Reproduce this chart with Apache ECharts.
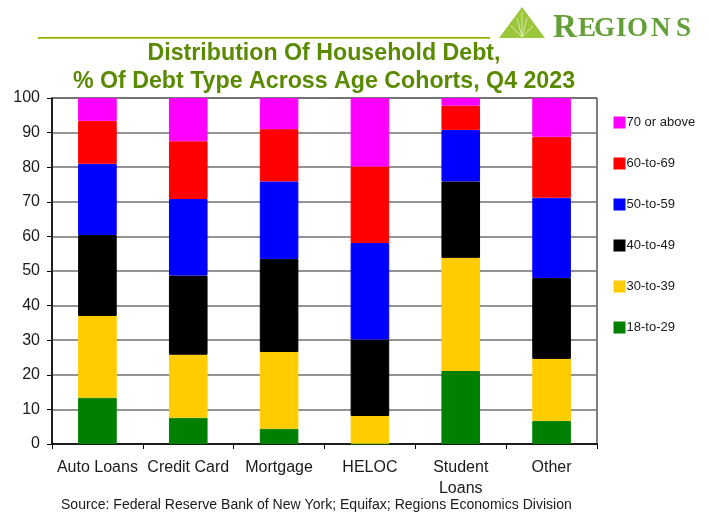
<!DOCTYPE html>
<html>
<head>
<meta charset="utf-8">
<style>html,body{margin:0;padding:0;background:#fff}#chart{width:709px;height:512px}</style>
<script src="https://cdn.jsdelivr.net/npm/echarts@6/dist/echarts.min.js"></script>
</head>
<body>
<div id="chart"></div>
<script>
// Share of each debt type held by each age cohort, Q4 2023 (percent)
var categories = ['Auto Loans', 'Credit Card', 'Mortgage', 'HELOC', 'Student\nLoans', 'Other'];
var age18to29 = [13.4, 7.6, 4.4, 0.1, 21.1, 6.7];
var age30to39 = [23.6, 18.2, 22.2, 8.0, 32.7, 17.9];
var age40to49 = [23.4, 22.9, 26.9, 22.1, 22.1, 23.4];
var age50to59 = [20.6, 22.1, 22.4, 27.9, 14.9, 23.2];
var age60to69 = [12.4, 16.7, 15.1, 22.1, 7.0, 17.6];
var age70plus = [6.6, 12.5, 9.0, 19.8, 2.2, 11.2];
var yTicks = { min: 0, max: 100, interval: 10 };
var cohorts = [
  { name: '18-to-29', values: age18to29, color: '#008000' },
  { name: '30-to-39', values: age30to39, color: '#ffcc00' },
  { name: '40-to-49', values: age40to49, color: '#000000' },
  { name: '50-to-59', values: age50to59, color: '#0000ff' },
  { name: '60-to-69', values: age60to69, color: '#ff0000' },
  { name: '70 or above', values: age70plus, color: '#ff00ff' }
];

var FONT = '"Liberation Sans", Arial, sans-serif';
var SERIF = '"Liberation Serif", serif';

// Wordmark letters are set one by one for the wide small-cap tracking
var wordmark = [
  { ch: 'R', x: 553, size: 33, y: 12 },
  { ch: 'E', x: 578, size: 27, y: 16 },
  { ch: 'G', x: 594, size: 27, y: 16 },
  { ch: 'I', x: 616, size: 27, y: 16 },
  { ch: 'O', x: 627, size: 27, y: 16 },
  { ch: 'N', x: 651, size: 27, y: 16 },
  { ch: 'S', x: 676, size: 27, y: 16 }
].map(function (l) {
  return {
    type: 'text', left: l.x, top: l.y, silent: true,
    style: { text: l.ch, fontFamily: SERIF, fontSize: l.size, fontWeight: 'bold', fill: '#659f38' }
  };
});

// Fan of pale rays inside the triangle
var rays = [[511, 26], [517, 18], [522, 12], [527, 18], [533, 26]].map(function (tip) {
  return {
    type: 'polyline', silent: true,
    shape: { points: [[522, 37], tip] },
    style: { stroke: '#e4f0c4', lineWidth: 0.8, fill: 'none' }
  };
});

var chart = echarts.init(document.getElementById('chart'), null, { renderer: 'canvas' });

chart.setOption({
  animation: false,
  backgroundColor: '#ffffff',
  textStyle: { fontFamily: FONT },
  title: {
    text: 'Distribution Of Household Debt,\n% Of Debt Type Across Age Cohorts, Q4 2023',
    left: 319,
    top: 35,
    textAlign: 'center',
    textStyle: { fontFamily: FONT, fontSize: 23.2, fontWeight: 'bold', color: '#5a8a00', lineHeight: 28 }
  },
  legend: {
    orient: 'vertical',
    left: 608.5,
    top: 111,
    itemWidth: 10,
    itemHeight: 10,
    itemGap: 28,
    icon: 'rect',
    selectedMode: false,
    data: cohorts.map(function (c) { return c.name; }).reverse(),
    textStyle: { fontFamily: FONT, fontSize: 13, color: '#1a1a1a', padding: [0, 0, 0, -3] }
  },
  grid: {
    left: 52, right: 112, top: 98, bottom: 68,
    show: true, borderColor: '#000000', borderWidth: 1, backgroundColor: 'transparent'
  },
  xAxis: {
    type: 'category',
    data: categories,
    axisLine: { lineStyle: { color: '#000000', width: 1.5 } },
    axisTick: { show: true, alignWithLabel: false, length: 5, lineStyle: { color: '#000000', width: 1 } },
    axisLabel: { interval: 0, fontFamily: FONT, fontSize: 16, color: '#1a1a1a', margin: 13, lineHeight: 21 }
  },
  yAxis: {
    type: 'value',
    min: yTicks.min,
    max: yTicks.max,
    interval: yTicks.interval,
    axisLine: { show: true, lineStyle: { color: '#000000', width: 1.5 } },
    axisTick: { show: true, length: 5, lineStyle: { color: '#000000', width: 1 } },
    axisLabel: { fontFamily: FONT, fontSize: 16, color: '#1a1a1a', margin: 12 },
    splitLine: { show: true, lineStyle: { color: '#707070', width: 1.5 } }
  },
  series: cohorts.map(function (c) {
    return {
      name: c.name,
      type: 'bar',
      stack: 'share',
      barWidth: '42.5%',
      data: c.values,
      clip: false,
      itemStyle: { color: c.color, borderColor: c.color, borderWidth: 1 }
    };
  }),
  graphic: [
    // rule beneath the masthead
    { type: 'rect', shape: { x: 38, y: 37, width: 452, height: 1.7 }, style: { fill: '#8fb800' }, silent: true },
    // triangle of the logo
    { type: 'polygon', shape: { points: [[499, 38], [522, 7], [545, 38]] }, style: { fill: '#9cc63c' }, silent: true }
  ].concat(rays, wordmark, [
    {
      type: 'text', left: 61, top: 498, silent: true,
      style: { text: 'Source: Federal Reserve Bank of New York; Equifax; Regions Economics Division', fontFamily: FONT, fontSize: 14.05, fill: '#1a1a1a' }
    }
  ])
});
</script>
</body>
</html>
